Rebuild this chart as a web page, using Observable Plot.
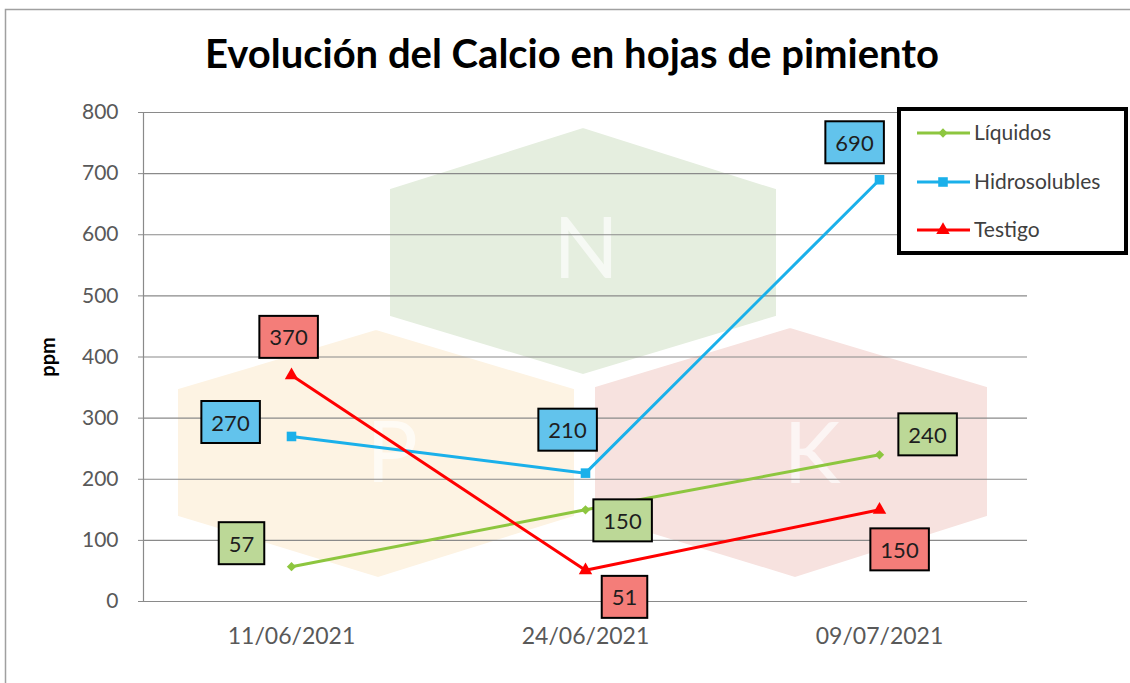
<!DOCTYPE html>
<html><head><meta charset="utf-8">
<script src="https://cdn.jsdelivr.net/npm/d3@7"></script>
<script src="https://cdn.jsdelivr.net/npm/@observablehq/plot@0.6"></script>
<style>
html,body{margin:0;padding:0;background:#fff;}
#wrap{position:relative;width:1130px;height:683px;overflow:hidden;font-family:Lato,sans-serif;}
#wrap > svg{position:absolute;left:0;top:0;}
</style></head><body><div id="wrap"></div>
<script>
// ---- data ----
const fechas = ["11/06/2021", "24/06/2021", "09/07/2021"];
const series = ["Líquidos", "Hidrosolubles", "Testigo"];
const liquidos = [57, 150, 240];
const hidrosolubles = [270, 210, 690];
const testigo = [370, 51, 150];
const yTicks = [0, 100, 200, 300, 400, 500, 600, 700, 800];
const titulo = "Evolución del Calcio en hojas de pimiento";
const yLabel = "ppm";

// ---- styling ----
const lineColors = ["#8DC63F", "#1AB0EA", "#FF0000"];
const boxColors = ["#BCD897", "#62C3EC", "#F47D79"];
const symbols = ["diamond2", "square", "triangle"];
const symbolR = [4.2, 5.4, 5];
// label offsets (px) for each series / date
const labelOffsets = [
  [[-50, -22], [37, 12], [48, -19]],
  [[-61, -13], [-18, -42], [-25, -36]],
  [[-3, -37], [39, 28], [20, 41]]
];

const valuesBySeries = [liquidos, hidrosolubles, testigo];
const rows = [];
series.forEach((s, i) => fechas.forEach((f, j) => rows.push({serie: s, fecha: f, valor: valuesBySeries[i][j], si: i, fi: j})));

const wrap = document.getElementById("wrap");
const ns = "http://www.w3.org/2000/svg";

// ---- decorative watermark background ----
const bg = d3.select(wrap).append("svg").attr("width", 1130).attr("height", 683);
const hexes = [
  {c: "#fdf3e3", pts: [[376,327],[577,387],[577,518],[378,580],[175,518],[175,387]], letter: "P", lx: 392, ly: 482},
  {c: "#f7e2df", pts: [[790,325],[990,385],[990,518],[795,580],[592,518],[592,385]], letter: "K", lx: 812, ly: 483},
  {c: "#e5eedf", pts: [[583,125],[779,187],[779,318],[583,377],[387,318],[387,187]], letter: "N", lx: 586, ly: 278}
];
hexes.forEach(h => {
  bg.append("polygon").attr("points", h.pts.map(p => p.join(",")).join(" ")).attr("fill", h.c)
    .attr("stroke", "#fff").attr("stroke-width", 6);
  bg.append("text").attr("x", h.lx).attr("y", h.ly).attr("text-anchor", "middle")
    .attr("font-family", "Lato, sans-serif").attr("font-size", 86).attr("fill", "#fff").attr("fill-opacity", 0.65)
    .text(h.letter);
});

// ---- chart ----
const labelMarks = [];
rows.forEach(r => {
  const [dx, dy] = labelOffsets[r.si][r.fi];
  labelMarks.push(Plot.text([r], {x: "fecha", y: "valor", text: d => String(d.valor), dx, dy,
    fontSize: 22, fill: "#1e1e1e", textAnchor: "middle", lineAnchor: "middle", fontFamily: "Lato, sans-serif"}));
});

const plot = Plot.plot({
  width: 1130, height: 683,
  marginLeft: 143, marginRight: 103, marginTop: 112, marginBottom: 82,
  style: {background: "transparent", fontFamily: "Lato, sans-serif", overflow: "visible"},
  x: {type: "point", domain: fechas, padding: 0.5, label: null},
  y: {domain: [0, 800], label: null},
  color: {domain: series, range: lineColors},
  marks: [
    Plot.gridY(yTicks, {stroke: "#8a8a8a", strokeOpacity: 1, strokeWidth: 1.2}),
    Plot.frame({anchor: "left", stroke: "#8a8a8a", strokeWidth: 1.2}),
    Plot.axisY(yTicks, {tickSize: 5, tickPadding: 20, fontSize: 21, fill: "#595959", stroke: "#8a8a8a", label: null}),
    Plot.axisX({tickSize: 0, tickPadding: 26, fontSize: 23, fill: "#595959", label: null}),
    Plot.line(rows, {x: "fecha", y: "valor", z: "serie", stroke: "serie", strokeWidth: 3}),
    ...series.map((s, i) => Plot.dot(rows.filter(r => r.serie === s), {x: "fecha", y: "valor", symbol: symbols[i], r: symbolR[i], fill: lineColors[i], stroke: "none"})),
    ...labelMarks
  ]
});
wrap.appendChild(plot);

// boxes behind data labels
const groups = plot.querySelectorAll('g[aria-label="text"]');
groups.forEach((g, i) => {
  const r = rows[i];
  g.querySelectorAll("text").forEach(t => {
    const b = t.getBBox();
    const rect = document.createElementNS(ns, "rect");
    const padX = 10;
    rect.setAttribute("x", b.x - padX);
    rect.setAttribute("y", b.y + b.height / 2 - 21);
    rect.setAttribute("width", b.width + 2 * padX);
    rect.setAttribute("height", 42);
    rect.setAttribute("fill", boxColors[r.si]);
    rect.setAttribute("stroke", "#000");
    rect.setAttribute("stroke-width", 2);
    const tr = t.getAttribute("transform");
    if (tr) rect.setAttribute("transform", tr);
    g.insertBefore(rect, t);
  });
});

// ---- overlay: frame, title, y label, legend ----
const ov = d3.select(wrap).append("svg").attr("width", 1130).attr("height", 683).style("pointer-events", "none");
ov.append("path").attr("d", "M5.5,683V9.5H1130").attr("fill", "none").attr("stroke", "#a0a0a0").attr("stroke-width", 1.5);
ov.append("text").attr("x", 572).attr("y", 68).attr("text-anchor", "middle")
  .attr("font-family", "Lato, sans-serif").attr("font-weight", "bold").attr("font-size", 40).attr("fill", "#000")
  .text(titulo);
ov.append("text").attr("transform", "translate(55,357) rotate(-90)").attr("text-anchor", "middle")
  .attr("font-family", "Lato, sans-serif").attr("font-weight", "bold").attr("font-size", 20).attr("fill", "#000")
  .text(yLabel);

const lg = ov.append("g");
lg.append("rect").attr("x", 899).attr("y", 109).attr("width", 227).attr("height", 144)
  .attr("fill", "#fff").attr("stroke", "#000").attr("stroke-width", 4);
const d3sym = {"diamond2": d3.symbolDiamond2, "square": d3.symbolSquare, "triangle": d3.symbolTriangle};
const rowY = [133, 182, 230];
series.forEach((s, i) => {
  const y = rowY[i];
  lg.append("line").attr("x1", 917).attr("x2", 970).attr("y1", y).attr("y2", y)
    .attr("stroke", lineColors[i]).attr("stroke-width", 3);
  lg.append("path").attr("transform", `translate(943,${y})`)
    .attr("d", d3.symbol(d3sym[symbols[i]], Math.PI * symbolR[i] * symbolR[i])()).attr("fill", lineColors[i]);
  lg.append("text").attr("x", 974).attr("y", y + 7).attr("font-family", "Lato, sans-serif")
    .attr("font-size", 21).attr("fill", "#404040").text(s);
});
</script>
</body></html>
